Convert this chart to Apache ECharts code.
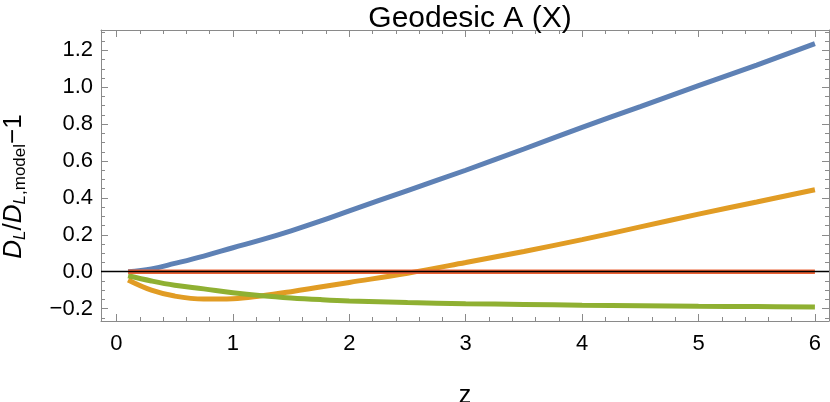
<!DOCTYPE html>
<html>
<head>
<meta charset="utf-8">
<script src="https://cdn.jsdelivr.net/npm/echarts@6/dist/echarts.min.js"></script>
<style>
  html, body { margin: 0; padding: 0; background: #fff; }
  #chart { width: 830px; height: 402px; }
</style>
</head>
<body>
<div id="chart"></div>
<script>
// Redshift samples and the curves
const zValues      = [0.1, 0.3, 0.5, 0.75, 1, 1.25, 1.5, 1.75, 2, 2.5, 3, 3.5, 4, 4.5, 5, 5.5, 6];
const blueValues   = [0.0, 0.015, 0.045, 0.085, 0.13, 0.174, 0.222, 0.274, 0.33, 0.44, 0.55, 0.665, 0.782, 0.895, 1.008, 1.12, 1.236];
const orangeValues = [-0.045, -0.1, -0.132, -0.148, -0.146, -0.13, -0.108, -0.083, -0.058, -0.008, 0.05, 0.11, 0.174, 0.243, 0.312, 0.378, 0.444];
const greenValues  = [-0.022, -0.05, -0.073, -0.093, -0.114, -0.13, -0.142, -0.151, -0.158, -0.167, -0.173, -0.177, -0.181, -0.184, -0.187, -0.189, -0.191];
const redZ         = [0.1, 6];
const redValues    = [0, 0];

// Tick positions
const xMajorTicks = [0, 1, 2, 3, 4, 5, 6];
const xMinorTicks = [0.2, 0.4, 0.6, 0.8, 1.2, 1.4, 1.6, 1.8, 2.2, 2.4, 2.6, 2.8, 3.2, 3.4, 3.6, 3.8,
                     4.2, 4.4, 4.6, 4.8, 5.2, 5.4, 5.6, 5.8];
const yMajorTicks = [-0.2, 0, 0.2, 0.4, 0.6, 0.8, 1.0, 1.2];
const yMinorTicks = [-0.25, -0.15, -0.1, -0.05, 0.05, 0.1, 0.15, 0.25, 0.3, 0.35, 0.45, 0.5, 0.55,
                     0.65, 0.7, 0.75, 0.85, 0.9, 0.95, 1.05, 1.1, 1.15, 1.25, 1.3];

const FONT = 'Liberation Sans';
const FRAME = '#8a8a8a';
const X_MIN = -0.133, X_MAX = 6.121;
const Y_MIN = -0.267, Y_MAX = 1.31;

function pairs(xs, ys) {
  return xs.map((x, i) => [x, ys[i]]);
}

// one axis per side and tick size, Mathematica style frame
function frameAxis(pos, min, max, ticks, len, withLine) {
  return {
    type: 'value',
    position: pos,
    min: min,
    max: max,
    axisLine: { show: withLine, onZero: false, lineStyle: { color: FRAME, width: 1 } },
    axisTick: { show: true, inside: true, length: len, customValues: ticks,
                lineStyle: { color: FRAME, width: 1 } },
    axisLabel: { show: false },
    splitLine: { show: false }
  };
}

const xBottom = frameAxis('bottom', X_MIN, X_MAX, xMajorTicks, 7, true);
xBottom.axisLabel = {
  show: true, customValues: xMajorTicks, margin: 12,
  fontFamily: FONT, fontSize: 22, color: '#000'
};
xBottom.name = 'z';
xBottom.nameLocation = 'middle';
xBottom.nameGap = 63;
xBottom.nameTextStyle = { fontFamily: FONT, fontSize: 25, color: '#000' };

const yLeft = frameAxis('left', Y_MIN, Y_MAX, yMajorTicks, 7, true);
yLeft.axisLabel = {
  show: true, customValues: yMajorTicks, margin: 8,
  fontFamily: FONT, fontSize: 22, color: '#000',
  formatter: v => v.toFixed(1).replace('-', '\u2212')
};
yLeft.name = '{i|D}{s|L}{n|/}{i|D}{s|L}{t|,model}{n|\u22121}';
yLeft.nameLocation = 'middle';
yLeft.nameRotate = 90;
yLeft.nameGap = 72;
yLeft.nameTextStyle = {
  fontFamily: FONT, color: '#000',
  padding: [0, 22, 0, 0],
  rich: {
    i: { fontFamily: FONT, fontSize: 26, fontStyle: 'italic', lineHeight: 30, verticalAlign: 'middle' },
    n: { fontFamily: FONT, fontSize: 26, lineHeight: 30, verticalAlign: 'middle' },
    s: { fontFamily: FONT, fontSize: 17, fontStyle: 'italic', lineHeight: 14, verticalAlign: 'bottom' },
    t: { fontFamily: FONT, fontSize: 17, lineHeight: 14, verticalAlign: 'bottom' }
  }
};

const option = {
  animation: false,
  backgroundColor: '#fff',
  title: {
    text: 'Geodesic A (X)',
    left: 465,
    textAlign: 'center',
    top: -1,
    textStyle: { fontFamily: FONT, fontSize: 30, fontWeight: 'normal', color: '#000' }
  },
  grid: { left: 101, right: 1, top: 30, bottom: 81, outerBoundsMode: 'none' },
  xAxis: [
    xBottom,
    frameAxis('bottom', X_MIN, X_MAX, xMinorTicks, 4, false),
    frameAxis('top', X_MIN, X_MAX, xMajorTicks, 7, true),
    frameAxis('top', X_MIN, X_MAX, xMinorTicks, 4, false)
  ],
  yAxis: [
    yLeft,
    frameAxis('left', Y_MIN, Y_MAX, yMinorTicks, 4, false),
    frameAxis('right', Y_MIN, Y_MAX, yMajorTicks, 7, true),
    frameAxis('right', Y_MIN, Y_MAX, yMinorTicks, 4, false)
  ],
  series: [
    {
      name: 'blue', type: 'line', smooth: 0.4, showSymbol: false,
      lineStyle: { color: '#5E81B5', width: 5 },
      data: pairs(zValues, blueValues)
    },
    {
      name: 'orange', type: 'line', smooth: 0.4, showSymbol: false,
      lineStyle: { color: '#E19C24', width: 5 },
      data: pairs(zValues, orangeValues)
    },
    {
      name: 'green', type: 'line', smooth: 0.4, showSymbol: false,
      lineStyle: { color: '#8FB032', width: 5 },
      data: pairs(zValues, greenValues)
    },
    {
      name: 'red', type: 'line', showSymbol: false,
      lineStyle: { color: '#EB6235', width: 4.5 },
      data: pairs(redZ, redValues),
      markLine: {
        silent: true, symbol: 'none', label: { show: false },
        lineStyle: { color: '#000', width: 1.3, type: 'solid' },
        emphasis: { disabled: true },
        data: [{ yAxis: 0 }]
      }
    }
  ]
};

const chart = echarts.init(document.getElementById('chart'), null, { renderer: 'canvas' });
chart.setOption(option);
</script>
</body>
</html>
